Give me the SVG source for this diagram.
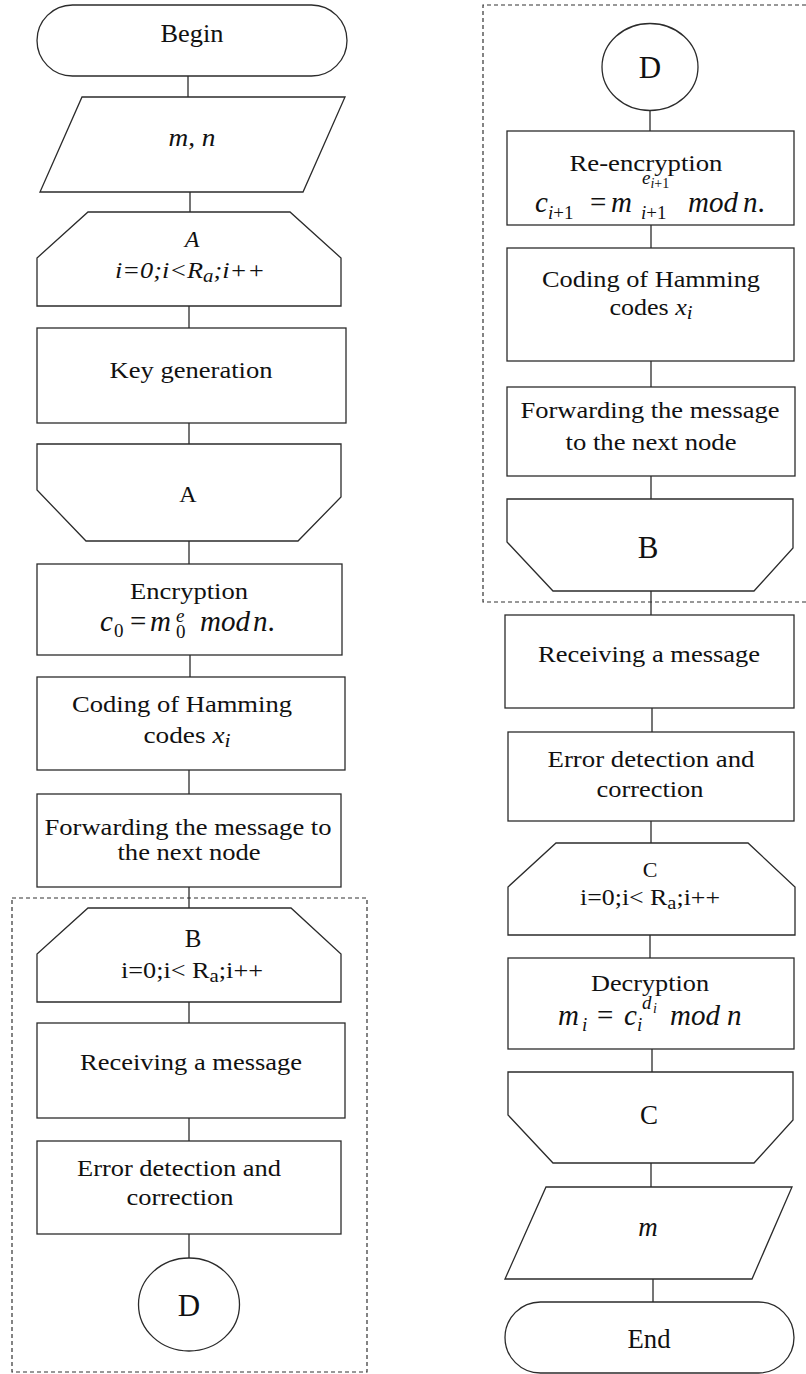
<svg xmlns="http://www.w3.org/2000/svg" width="806" height="1374" viewBox="0 0 806 1374">
  <style>
    .shape { fill: #fff; stroke: #2b2b2b; stroke-width: 1.3; }
    .conn { stroke: #2b2b2b; stroke-width: 1.3; fill: none; }
    .dash { stroke: #333; stroke-width: 1.2; fill: none; stroke-dasharray: 4 3; }
    .t { font-family: "Liberation Serif", "Times New Roman", serif; font-size: 24px; fill: #111; text-anchor: middle; }
    .it { font-style: italic; }
    .f { font-family: "Liberation Serif", "Times New Roman", serif; font-size: 29px; font-style: italic; fill: #111; }
    .up { font-style: normal; }
    .s { font-size: 19px; }
    .ss { font-size: 14px; }
    .k25 { font-size: 25px; }
    .k27 { font-size: 27px; }
    .k31 { font-size: 31px; }
    .k22 { font-size: 22px; }
  </style>
  <rect width="806" height="1374" fill="#fff"/>

  <!-- dashed grouping frames -->
  <g id="frames">
    <rect class="dash" x="12" y="898" width="355" height="474"/>
    <path class="dash" d="M806 5 H483 V602 H806"/>
  </g>

  <!-- connectors -->
  <g id="connectors">
    <line class="conn" x1="188" y1="76" x2="188" y2="97"/>
    <line class="conn" x1="190" y1="192" x2="190" y2="212"/>
    <line class="conn" x1="189" y1="306" x2="189" y2="328"/>
    <line class="conn" x1="189" y1="423" x2="189" y2="444"/>
    <line class="conn" x1="189" y1="541" x2="189" y2="564"/>
    <line class="conn" x1="190" y1="655" x2="190" y2="677"/>
    <line class="conn" x1="189" y1="770" x2="189" y2="794"/>
    <line class="conn" x1="189" y1="887" x2="189" y2="908"/>
    <line class="conn" x1="189" y1="1002" x2="189" y2="1023"/>
    <line class="conn" x1="189" y1="1118" x2="189" y2="1141"/>
    <line class="conn" x1="189" y1="1234" x2="189" y2="1258"/>
    <line class="conn" x1="650" y1="110" x2="650" y2="131"/>
    <line class="conn" x1="651" y1="225" x2="651" y2="248"/>
    <line class="conn" x1="651" y1="361" x2="651" y2="387"/>
    <line class="conn" x1="651" y1="476" x2="651" y2="499"/>
    <line class="conn" x1="651" y1="591" x2="651" y2="615"/>
    <line class="conn" x1="652" y1="708" x2="652" y2="732"/>
    <line class="conn" x1="651" y1="821" x2="651" y2="843"/>
    <line class="conn" x1="650" y1="935" x2="650" y2="958"/>
    <line class="conn" x1="652" y1="1049" x2="652" y2="1072"/>
    <line class="conn" x1="651" y1="1163" x2="651" y2="1187"/>
    <line class="conn" x1="653" y1="1279" x2="653" y2="1302"/>
  </g>

  <!-- left column -->
  <g id="begin">
    <rect class="shape" x="37" y="5" width="310" height="71" rx="35.5"/>
    <text class="t k25" x="192" y="42" textLength="63" lengthAdjust="spacingAndGlyphs">Begin</text>
  </g>
  <g id="input-mn">
    <polygon class="shape" points="82,97 345,97 303,192 40,192"/>
    <text class="t it k25" x="192" y="146" textLength="47" lengthAdjust="spacingAndGlyphs">m, n</text>
  </g>
  <g id="loop-a-start">
    <polygon class="shape" points="88,212 290,212 341,258 341,306 37,306 37,258"/>
    <text class="t it" x="192" y="247">A</text>
    <text class="t it" x="190" y="278" textLength="150" lengthAdjust="spacingAndGlyphs">i=0;i&lt;R<tspan class="s" dy="4">a</tspan><tspan dy="-4">;i++</tspan></text>
  </g>
  <g id="key-generation">
    <rect class="shape" x="37" y="328" width="309" height="95"/>
    <text class="t" x="191" y="378" textLength="163" lengthAdjust="spacingAndGlyphs">Key generation</text>
  </g>
  <g id="loop-a-end">
    <polygon class="shape" points="37,444 341,444 341,497 298,541 86,541 37,490"/>
    <text class="t" x="188" y="502">A</text>
  </g>
  <g id="encryption">
    <rect class="shape" x="37" y="564" width="305" height="91"/>
    <text class="t" x="189" y="599" textLength="118" lengthAdjust="spacingAndGlyphs">Encryption</text>
    <text class="f"><tspan x="100" y="631">c</tspan><tspan class="s up" x="114" y="637">0</tspan><tspan class="up" x="130" y="631">=</tspan><tspan x="150" y="631">m</tspan><tspan class="s" x="176" y="622">e</tspan><tspan class="s up" x="176" y="638">0</tspan><tspan x="200" y="631">mod</tspan><tspan x="253" y="631">n</tspan><tspan class="up">.</tspan></text>
  </g>
  <g id="hamming-coding">
    <rect class="shape" x="37" y="677" width="308" height="93"/>
    <text class="t" x="182" y="712" textLength="220" lengthAdjust="spacingAndGlyphs">Coding of Hamming</text>
    <text class="t" x="187" y="743" textLength="87" lengthAdjust="spacingAndGlyphs">codes <tspan class="it">x</tspan><tspan class="it s" dy="4">i</tspan></text>
  </g>
  <g id="forwarding">
    <rect class="shape" x="37" y="794" width="304" height="93"/>
    <text class="t" x="188" y="835" textLength="287" lengthAdjust="spacingAndGlyphs">Forwarding the message to</text>
    <text class="t" x="189" y="860" textLength="143" lengthAdjust="spacingAndGlyphs">the next node</text>
  </g>
  <g id="loop-b-start">
    <polygon class="shape" points="88,908 291,908 341,954 341,1002 37,1002 37,954"/>
    <text class="t k25" x="193" y="947">B</text>
    <text class="t" x="192" y="978" textLength="142" lengthAdjust="spacingAndGlyphs">i=0;i&lt; R<tspan class="s" dy="4">a</tspan><tspan dy="-4">;i++</tspan></text>
  </g>
  <g id="receiving-left">
    <rect class="shape" x="37" y="1023" width="308" height="95"/>
    <text class="t" x="191" y="1070" textLength="222" lengthAdjust="spacingAndGlyphs">Receiving a message</text>
  </g>
  <g id="error-correction-left">
    <rect class="shape" x="37" y="1141" width="304" height="93"/>
    <text class="t" x="179" y="1176" textLength="204" lengthAdjust="spacingAndGlyphs">Error detection and</text>
    <text class="t" x="180" y="1205" textLength="107" lengthAdjust="spacingAndGlyphs">correction</text>
  </g>
  <g id="connector-d-out">
    <ellipse class="shape" cx="189" cy="1304.5" rx="50.5" ry="46.5"/>
    <text class="t k31" x="189" y="1316">D</text>
  </g>

  <!-- right column -->
  <g id="connector-d-in">
    <ellipse class="shape" cx="650" cy="67" rx="48" ry="43.5"/>
    <text class="t k31" x="650" y="78">D</text>
  </g>
  <g id="re-encryption">
    <rect class="shape" x="507" y="131" width="287" height="94"/>
    <text class="t" x="646" y="171" textLength="153" lengthAdjust="spacingAndGlyphs">Re-encryption</text>
    <text class="f"><tspan x="535" y="212">c</tspan><tspan class="s" x="548" y="219">i</tspan><tspan class="s up">+1</tspan><tspan class="up" x="590" y="212">=</tspan><tspan x="611" y="212">m</tspan><tspan class="s" x="642" y="184">e</tspan><tspan class="ss" y="188">i</tspan><tspan class="ss up">+1</tspan><tspan class="s" x="641" y="219">i</tspan><tspan class="s up">+1</tspan><tspan x="688" y="212">mod</tspan><tspan x="743" y="212">n</tspan><tspan class="up">.</tspan></text>
  </g>
  <g id="hamming-coding-right">
    <rect class="shape" x="507" y="248" width="287" height="113"/>
    <text class="t" x="651" y="287" textLength="218" lengthAdjust="spacingAndGlyphs">Coding of Hamming</text>
    <text class="t" x="651" y="315" textLength="83" lengthAdjust="spacingAndGlyphs">codes <tspan class="it">x</tspan><tspan class="it s" dy="4">i</tspan></text>
  </g>
  <g id="forwarding-right">
    <rect class="shape" x="507" y="387" width="288" height="89"/>
    <text class="t" x="650" y="418" textLength="259" lengthAdjust="spacingAndGlyphs">Forwarding the message</text>
    <text class="t" x="651" y="450" textLength="171" lengthAdjust="spacingAndGlyphs">to the next node</text>
  </g>
  <g id="loop-b-end">
    <polygon class="shape" points="507,499 793,499 793,548 754,591 553,591 507,542"/>
    <text class="t k31" x="648" y="558">B</text>
  </g>
  <g id="receiving-right">
    <rect class="shape" x="505" y="615" width="289" height="93"/>
    <text class="t" x="649" y="662" textLength="222" lengthAdjust="spacingAndGlyphs">Receiving a message</text>
  </g>
  <g id="error-correction-right">
    <rect class="shape" x="508" y="732" width="286" height="89"/>
    <text class="t" x="651" y="767" textLength="207" lengthAdjust="spacingAndGlyphs">Error detection and</text>
    <text class="t" x="650" y="797" textLength="107" lengthAdjust="spacingAndGlyphs">correction</text>
  </g>
  <g id="loop-c-start">
    <polygon class="shape" points="556,843 748,843 795,887 795,935 508,935 508,887"/>
    <text class="t k22" x="650" y="877">C</text>
    <text class="t" x="650" y="905" textLength="140" lengthAdjust="spacingAndGlyphs">i=0;i&lt; R<tspan class="s" dy="4">a</tspan><tspan dy="-4">;i++</tspan></text>
  </g>
  <g id="decryption">
    <rect class="shape" x="508" y="958" width="286" height="91"/>
    <text class="t" x="650" y="991" textLength="118" lengthAdjust="spacingAndGlyphs">Decryption</text>
    <text class="f"><tspan x="558" y="1025">m</tspan><tspan class="s" x="582" y="1031">i</tspan><tspan class="up" x="597" y="1025">=</tspan><tspan x="624" y="1025">c</tspan><tspan class="s" x="637" y="1031">i</tspan><tspan class="s" x="642" y="1009">d</tspan><tspan class="ss" x="653" y="1013">i</tspan><tspan x="670" y="1025">mod</tspan><tspan x="727" y="1025">n</tspan></text>
  </g>
  <g id="loop-c-end">
    <polygon class="shape" points="508,1072 793,1072 793,1120 754,1163 553,1163 508,1115"/>
    <text class="t k27" x="649" y="1124">C</text>
  </g>
  <g id="output-m">
    <polygon class="shape" points="546,1187 792,1187 752,1279 505,1279"/>
    <text class="t it k27" x="648" y="1236">m</text>
  </g>
  <g id="end">
    <rect class="shape" x="505" y="1302" width="289" height="71" rx="35.5"/>
    <text class="t k27" x="649" y="1348" textLength="43" lengthAdjust="spacingAndGlyphs">End</text>
  </g>
</svg>
